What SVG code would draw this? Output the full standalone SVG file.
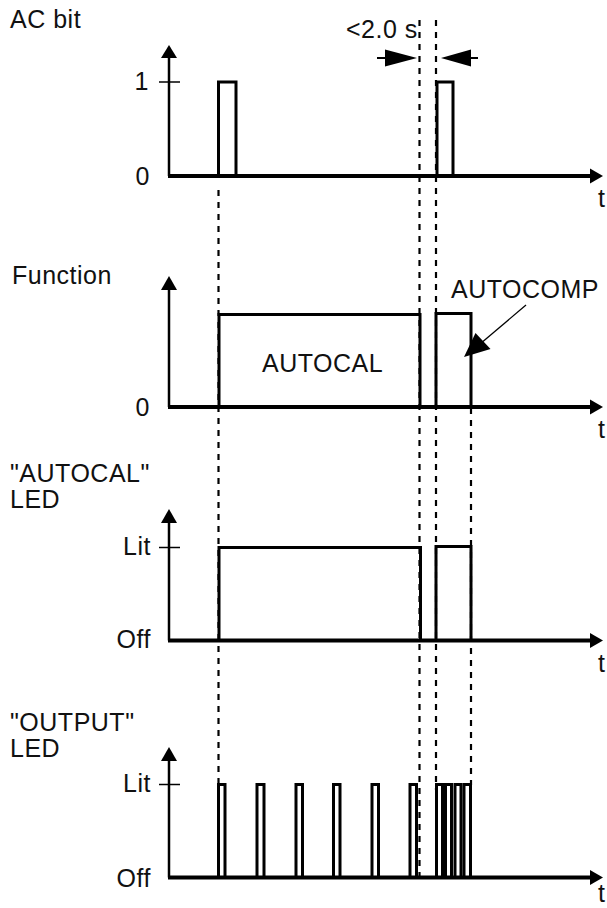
<svg xmlns="http://www.w3.org/2000/svg" width="607" height="908" viewBox="0 0 607 908">
<defs>
<style>
text{font-family:"Liberation Sans",Arial,sans-serif;font-size:25px;fill:#111;letter-spacing:0.5px}
.end{text-anchor:end}
.ax{stroke:#000;stroke-width:2.5;fill:none}
.base{stroke:#000;stroke-width:4;fill:none}
.sig{stroke:#000;stroke-width:3;fill:none;stroke-linejoin:miter}
.tick{stroke:#000;stroke-width:1.5;fill:none}
.dash{stroke:#000;stroke-width:2.2;fill:none;stroke-dasharray:6 6}
.head{fill:#000}
</style>
</defs>
<rect width="607" height="908" fill="#fff"/>

<g id="guides">
<line class="dash" x1="218.5" y1="190" x2="218.5" y2="878"/>
<line class="dash" x1="419.5" y1="20" x2="419.5" y2="878"/>
<line class="dash" x1="436" y1="20" x2="436" y2="790"/>
<line class="dash" x1="471" y1="408" x2="471" y2="785"/>
</g>

<g id="panel-acbit">
<text x="10" y="28">AC bit</text>
<text class="end" x="149" y="90">1</text>
<text class="end" x="150" y="185">0</text>
<text x="598" y="207">t</text>
<line class="ax" x1="169" y1="176" x2="169" y2="56"/>
<polygon class="head" points="169,45 161,58 177,58"/>
<line class="tick" x1="159" y1="82" x2="180" y2="82"/>
<line class="base" x1="168" y1="176" x2="591" y2="176"/>
<polygon class="head" points="603,176 590,168.5 590,183.5"/>
<path class="sig" d="M218.5 176V82H236V176"/>
<path class="sig" d="M437 176V82H453V176"/>
</g>

<g id="dimension">
<text x="346" y="38">&lt;2.0 s</text>
<line stroke="#000" stroke-width="2" x1="377" y1="58" x2="388" y2="58"/>
<polygon class="head" points="417,58 385,49.5 385,66.5"/>
<line stroke="#000" stroke-width="2" x1="468" y1="58" x2="478" y2="58"/>
<polygon class="head" points="441,58 471,49.5 471,66.5"/>
</g>

<g id="panel-function">
<text x="12" y="284">Function</text>
<text class="end" x="150" y="416">0</text>
<text x="598" y="438">t</text>
<line class="ax" x1="169" y1="407" x2="169" y2="288"/>
<polygon class="head" points="169,276 161,290 177,290"/>
<line class="base" x1="168" y1="407" x2="591" y2="407"/>
<polygon class="head" points="603,407 590,399.5 590,414.5"/>
<path class="sig" d="M219 407V314.5H420V407"/>
<path class="sig" d="M436 407V313.5H471V407"/>
<text x="262" y="372">AUTOCAL</text>
<text x="451" y="298">AUTOCOMP</text>
<line stroke="#000" stroke-width="1.3" x1="526" y1="305" x2="480" y2="344"/>
<polygon class="head" points="464,357 475.5,333 490.5,349"/>
</g>

<g id="panel-autocal-led">
<text x="10" y="482">"AUTOCAL"</text>
<text x="10" y="508">LED</text>
<text class="end" x="151" y="555">Lit</text>
<text class="end" x="151" y="648">Off</text>
<text x="598" y="672">t</text>
<line class="ax" x1="169" y1="640.5" x2="169" y2="521"/>
<polygon class="head" points="169,509 161,523 177,523"/>
<line class="tick" x1="159" y1="547.5" x2="180" y2="547.5"/>
<line class="base" x1="168" y1="640.5" x2="591" y2="640.5"/>
<polygon class="head" points="603,640.5 590,633 590,648"/>
<path class="sig" d="M219 640.5V547.5H420.5V640.5"/>
<path class="sig" d="M436 640.5V546.5H471V640.5"/>
</g>

<g id="panel-output-led">
<text x="10" y="731">"OUTPUT"</text>
<text x="10" y="757">LED</text>
<text class="end" x="151" y="792">Lit</text>
<text class="end" x="151" y="887">Off</text>
<text x="598" y="902">t</text>
<line class="ax" x1="169" y1="877.5" x2="169" y2="759"/>
<polygon class="head" points="169,747 161,761 177,761"/>
<line class="tick" x1="159" y1="784.5" x2="180" y2="784.5"/>
<line class="base" x1="168" y1="877.5" x2="591" y2="877.5"/>
<polygon class="head" points="603,877.5 590,870 590,885"/>
<path class="sig" d="M218.5 877.5V784.5H225V877.5"/>
<path class="sig" d="M257 877.5V784.5H264V877.5"/>
<path class="sig" d="M296 877.5V784.5H302.5V877.5"/>
<path class="sig" d="M333.5 877.5V784.5H340V877.5"/>
<path class="sig" d="M372 877.5V784.5H378.5V877.5"/>
<path class="sig" d="M410 877.5V784.5H416.5V877.5"/>
<path class="sig" d="M436.5 877.5V784.5H442.5V877.5"/>
<path class="sig" d="M445.5 877.5V784.5H451.5V877.5"/>
<path class="sig" d="M455 877.5V784.5H461V877.5"/>
<path class="sig" d="M464 877.5V784.5H470.5V877.5"/>
</g>
</svg>
